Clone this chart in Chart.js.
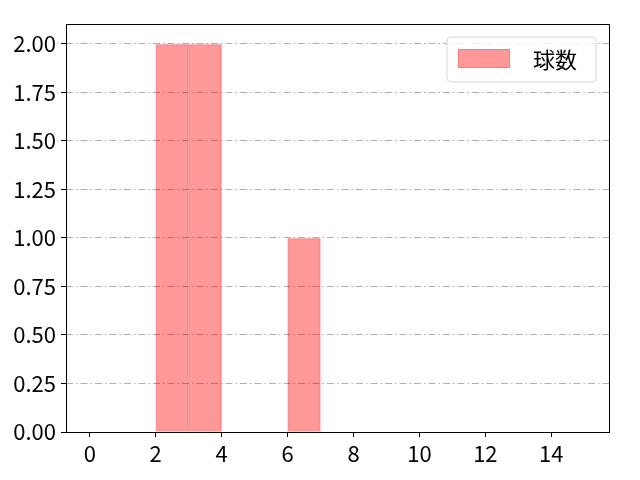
<!DOCTYPE html>
<html>
<head>
<meta charset="utf-8">
<script src="https://cdn.jsdelivr.net/npm/chart.js@4/dist/chart.umd.min.js"></script>
<style>
  html, body { margin: 0; padding: 0; background: #fff; overflow: hidden; }
</style>
</head>
<body>
<canvas id="hist-chart" width="640" height="480"></canvas>
<script>
// histogram bins (left edge) and counts
const binStarts = [2, 3, 6];
const counts = [2, 2, 1];
const binWidth = 1;
const seriesLabel = "球数";
const xTicks = [0, 2, 4, 6, 8, 10, 12, 14];
const yTicks = [0, 0.25, 0.5, 0.75, 1.0, 1.25, 1.5, 1.75, 2.0];

const FONT = "'Noto Sans CJK JP', 'Noto Sans', sans-serif";

// black frame + legend box inside the plot, like matplotlib
const framePlugin = {
  id: "frame",
  afterDraw(chart) {
    const ctx = chart.ctx;
    const a = chart.chartArea;
    ctx.save();
    ctx.strokeStyle = "#000";
    ctx.lineWidth = 1;
    ctx.strokeRect(a.left + 0.5, a.top + 0.5, a.right - a.left, a.bottom - a.top);

    // legend
    const bx = a.right - 162, by = a.top + 13, bw = 149, bh = 45;
    ctx.fillStyle = "rgba(255,255,255,0.8)";
    ctx.strokeStyle = "#d6d6d6";
    ctx.beginPath();
    ctx.roundRect(bx, by, bw, bh, 4);
    ctx.fill();
    ctx.stroke();
    ctx.fillStyle = "rgba(255,0,0,0.4)";
    ctx.fillRect(bx + 11, by + 12, 52, 19);
    ctx.strokeStyle = "rgba(255,0,0,0.2)";
    ctx.strokeRect(bx + 11.5, by + 12.5, 51, 18);
    ctx.fillStyle = "#000";
    ctx.font = "22px " + FONT;
    ctx.textBaseline = "middle";
    ctx.fillText(chart.data.datasets[0].label, bx + 86, by + 23);
    ctx.restore();
  }
};

new Chart(document.getElementById("hist-chart"), {
  type: "bar",
  data: {
    datasets: [{
      label: seriesLabel,
      data: binStarts.map((s, i) => ({ x: s + binWidth / 2, y: counts[i] })),
      backgroundColor: "rgba(255,0,0,0.4)",
      borderColor: "rgba(255,0,0,0.25)",
      borderWidth: 1,
      borderSkipped: false,
      barPercentage: 1,
      categoryPercentage: 1
    }]
  },
  options: {
    responsive: false,
    maintainAspectRatio: false,
    devicePixelRatio: 1,
    animation: false,
    layout: { padding: { top: 24, right: 31, left: 0, bottom: 0 } },
    plugins: { legend: { display: false }, tooltip: { enabled: false } },
    scales: {
      x: {
        type: "linear",
        min: -0.72,
        max: 15.75,
        offset: false,
        afterBuildTicks: s => { s.ticks = xTicks.map(v => ({ value: v })); },
        afterFit: s => { s.height = 48; },
        grid: { offset: false, drawOnChartArea: false, color: "#000", tickLength: 5 },
        border: { display: false },
        ticks: { color: "#000", font: { family: FONT, size: 22 }, padding: 3, maxRotation: 0, autoSkip: false }
      },
      y: {
        min: 0,
        max: 2.103,
        afterBuildTicks: s => { s.ticks = yTicks.map(v => ({ value: v })); },
        afterFit: s => { s.width = 66; },
        grid: { color: "#b0b0b0", tickLength: 5, tickColor: "#000" },
        border: { display: false, dash: [7, 3, 1.5, 3] },
        ticks: {
          color: "#000",
          font: { family: FONT, size: 22 },
          padding: 5,
          autoSkip: false,
          callback: v => v.toFixed(2)
        }
      }
    }
  },
  plugins: [framePlugin]
});
</script>
</body>
</html>
